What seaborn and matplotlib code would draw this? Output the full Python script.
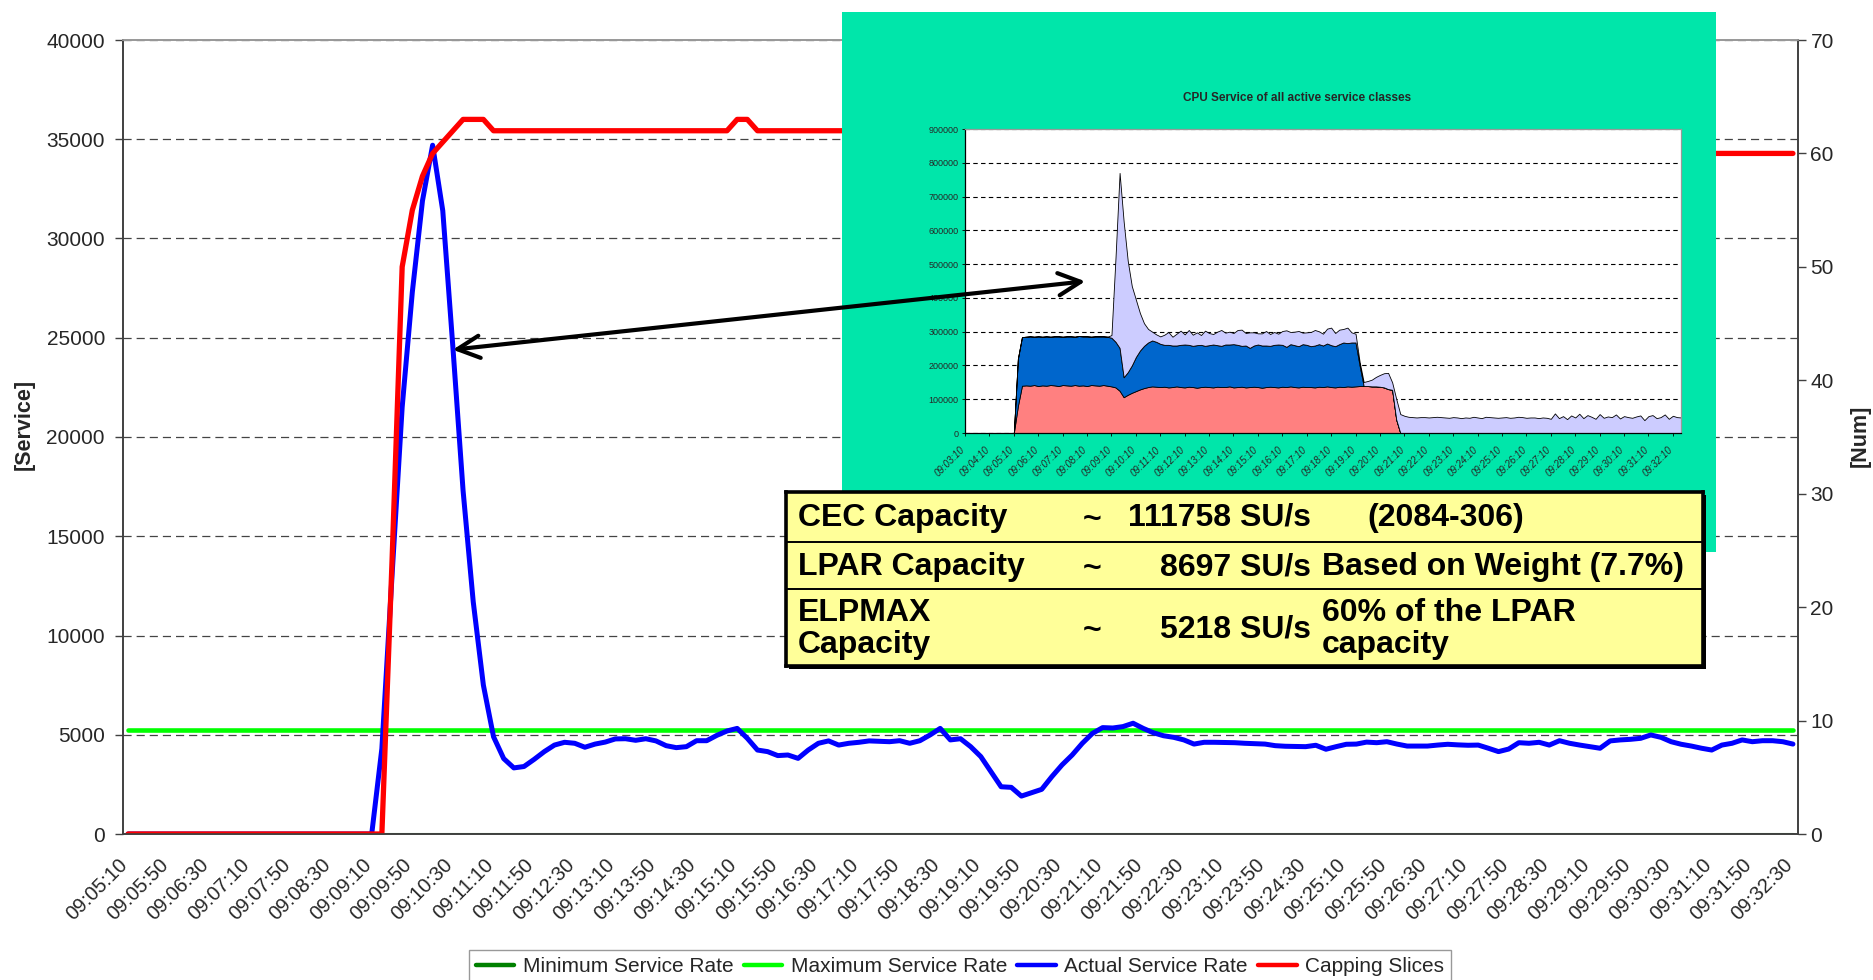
import numpy as np
import pandas as pd
import matplotlib
matplotlib.use("Agg")
import matplotlib.pyplot as plt
import matplotlib.transforms as mtransforms
from matplotlib.lines import Line2D
from matplotlib.patches import Rectangle, FancyArrowPatch
import seaborn as sns

# ---------------- data ----------------
times = pd.date_range("2000-01-01 09:05:10", periods=165, freq="10s").strftime("%H:%M:%S")

series_names = ["Minimum Service Rate", "Maximum Service Rate",
                "Actual Service Rate", "Capping Slices"]

min_rate = [0] * 165
max_rate = [5218] * 165

actual = [
    0, 0, 0, 0, 0, 0, 0, 0, 0, 0,
    0, 0, 0, 0, 0, 0, 0, 0, 0, 0,
    0, 0, 0, 0, 0,
    4300, 13000, 21500, 27300, 31900, 34700, 31400, 24500, 17300, 11700,
    7500, 4900, 3800, 3330, 3400, 3760, 4150, 4480, 4620, 4570,
    4370, 4530, 4630, 4790, 4800, 4720, 4800, 4690, 4450, 4350,
    4400, 4700, 4700, 4970, 5190, 5320, 4820, 4230, 4150, 3950,
    3980, 3810, 4230, 4570, 4690, 4480, 4570, 4620, 4690, 4670,
    4650, 4700, 4570, 4700, 4990, 5320, 4740, 4800, 4400, 3900,
    3140, 2380, 2350, 1910, 2080, 2250, 2890, 3480, 3980, 4570,
    5070, 5360, 5340, 5410, 5580, 5320, 5100, 4950, 4870, 4740,
    4530, 4620, 4620, 4610, 4600, 4570, 4550, 4530, 4450, 4420,
    4410, 4400, 4470, 4270, 4400, 4520, 4530, 4630, 4600, 4650,
    4530, 4430, 4430, 4430, 4480, 4520, 4490, 4470, 4480, 4320,
    4150, 4280, 4600, 4570, 4620, 4480, 4700, 4570, 4480, 4400,
    4320, 4690, 4740, 4770, 4820, 4990, 4870, 4650, 4520, 4430,
    4320, 4230, 4480, 4570, 4740, 4650, 4700, 4700, 4650, 4530,
]

capping = ([0] * 26 + [24, 50, 55, 58, 60, 61, 62, 63, 63, 63]
           + [62] * 24 + [63, 63] + [62] * 59 + [60] * 44)

# inset chart: CPU service per class (stacked)
inset_times = pd.date_range("2000-01-01 09:03:10", periods=177, freq="10s").strftime("%H:%M:%S")
inset_title = "CPU Service of all active service classes"

svc_low = (
    [0] * 13 + [80000, 140000]
    + [141000, 140000, 142000, 139000, 141000, 140000, 142000, 141000, 139000, 142000,
       141000, 140000, 142000, 140000, 141000, 139000, 142000, 141000, 140000, 142000, 140000]
    + [138000, 135000, 125000, 106000, 113000, 119000, 124000, 129000, 133000, 136000, 138000, 137000]
    + [136000, 137000, 135000, 136000, 138000, 136000, 135000, 137000, 136000, 134000,
       136000, 137000, 136000, 135000, 137000, 136000, 136000, 138000, 135000, 136000,
       137000, 135000, 136000, 137000, 136000, 134000, 136000, 137000, 136000, 135000,
       137000, 136000, 138000, 136000, 135000, 137000, 136000, 136000, 135000, 137000,
       136000, 138000, 136000, 135000, 137000, 136000, 138000, 137000, 138000, 139000]
    + [139000, 139000, 138000, 138000, 137000, 135000, 130000, 128000, 40000]
    + [0] * 70
)

svc_mid = (
    [0] * 13 + [140000, 144000]
    + [144000, 146000, 143000, 147000, 144000, 146000, 143000, 145000, 147000, 143000,
       145000, 146000, 143000, 147000, 145000, 147000, 143000, 145000, 146000, 144000, 145000]
    + [144000, 135000, 127000, 59000, 67000, 81000, 101000, 115000, 125000, 132000, 136000, 133000]
    + [128000, 124000, 126000, 123000, 121000, 125000, 127000, 124000, 122000, 126000,
       125000, 121000, 124000, 127000, 123000, 122000, 126000, 124000, 128000, 125000,
       121000, 124000, 116000, 122000, 126000, 125000, 123000, 121000, 125000, 127000,
       124000, 119000, 125000, 124000, 122000, 126000, 125000, 121000, 124000, 126000,
       123000, 127000, 124000, 122000, 126000, 132000, 128000, 131000]
    + [130000, 61000]
    + [0] * 79
)

svc_top = (
    [0] * 36
    + [8000, 250000, 518000, 461000, 330000, 235000, 170000, 111000, 67000, 40000, 26000, 22000]
    + [22000, 30000, 38000, 26000, 35000, 42000, 30000, 44000, 33000, 38000,
       29000, 45000, 36000, 31000, 40000, 47000, 35000, 38000, 33000, 44000,
       48000, 37000, 46000, 39000, 33000, 36000, 43000, 35000, 38000, 32000,
       41000, 49000, 36000, 40000, 45000, 34000, 37000, 42000, 46000, 38000,
       35000, 44000, 52000, 39000, 43000, 40000, 46000, 30000]
    + [26000, 11000]
    + [12000, 15000, 20000, 28000, 35000, 42000, 48000, 22000, 61000, 56000]
    + [51000, 48000, 47000, 46000, 47000, 47000, 46000, 47000, 48000, 47000,
       46000, 45000, 47000, 46000, 44000, 46000, 45000, 48000, 46000, 44000,
       48000, 47000, 46000, 45000, 46000, 47000, 45000, 46000, 48000, 47000,
       45000, 46000, 46000, 44000, 46000, 45000, 42000, 58000, 44000, 50000,
       41000, 52000, 46000, 57000, 44000, 53000, 48000, 42000, 56000, 45000,
       49000, 47000, 55000, 43000, 50000, 47000, 45000, 49000, 52000, 38000,
       50000, 53000, 44000, 47000, 55000, 42000, 51000, 47000, 46000]
)

table_rows = [
    ("CEC Capacity", "111758 SU/s", "(2084-306)"),
    ("LPAR Capacity", "8697 SU/s", "Based on Weight (7.7%)"),
    ("ELPMAX\nCapacity", "5218 SU/s", "60% of the LPAR\ncapacity"),
]

# ---------------- style ----------------
sns.set_theme(style="white")
plt.rcParams["font.family"] = ["Liberation Sans", "DejaVu Sans"]

W, H = 1874, 980
fig = plt.figure(figsize=(W / 100, H / 100), dpi=100)


def rect(x0, y0, x1, y1):
    return [x0 / W, 1 - y1 / H, (x1 - x0) / W, (y1 - y0) / H]


def shift(labels, dx_px, dy_px=0):
    off = mtransforms.ScaledTranslation(dx_px / 100, dy_px / 100, fig.dpi_scale_trans)
    for lbl in labels:
        lbl.set_transform(lbl.get_transform() + off)


colors = ["#008000", "#00FF00", "#0000FF", "#FF0000"]
widths = [2.2, 3.3, 3.6, 3.8]
x = np.arange(len(times))

# ---------------- main chart ----------------
ax = fig.add_axes(rect(123, 40, 1798, 834))
ax.set_facecolor("white")
sns.lineplot(x=x, y=min_rate, ax=ax, color=colors[0], linewidth=widths[0], legend=False)
sns.lineplot(x=x, y=max_rate, ax=ax, color=colors[1], linewidth=widths[1], legend=False)
sns.lineplot(x=x, y=actual, ax=ax, color=colors[2], linewidth=widths[2], legend=False)
ax.set_xlim(-0.5, len(times) - 0.5)
ax.set_ylim(0, 40000)
ax.set_yticks(range(0, 40001, 5000))
ax.yaxis.grid(True, linestyle=(0, (6.5, 4)), color="#444444", linewidth=0.9)
ax.xaxis.grid(False)
ax.set_axisbelow(True)

ax.set_xticks(x[::4])
ax.set_xticklabels(times[::4])
ax.set_xticks(np.arange(-0.5, len(times), 1), minor=True)
ax.tick_params(axis="x", which="major", length=0, pad=15, labelsize=14.5)
ax.tick_params(axis="x", which="minor", length=5, width=0.8, color="#404040", direction="out")
ax.tick_params(axis="y", length=6, width=1, color="#404040", direction="out", pad=7, labelsize=15)
ax.tick_params(left=True, bottom=True)
for lbl in ax.get_xticklabels():
    lbl.set_rotation(45)
    lbl.set_ha("right")
    lbl.set_va("top")
    lbl.set_rotation_mode("anchor")
shift(ax.get_xticklabels(), -10)
ax.set_xlabel("")
ax.set_ylabel("")

ax2 = ax.twinx()
sns.lineplot(x=x, y=capping, ax=ax2, color=colors[3], linewidth=widths[3], legend=False)
ax2.set_ylim(0, 70)
ax2.set_yticks(range(0, 71, 10))
ax2.tick_params(axis="y", length=6, width=1, color="#404040", direction="out", pad=3, labelsize=15)
ax2.tick_params(right=True)
ax2.grid(False)
ax2.set_ylabel("")

for a in (ax, ax2):
    a.spines["top"].set_color("#999999")
    for s in ("left", "right", "bottom"):
        a.spines[s].set_color("#404040")
        a.spines[s].set_linewidth(1.2)

fig.text(24 / W, 1 - 424 / H, "[Service]", rotation=90, ha="center", va="center",
         fontsize=15.5, fontweight="bold")
fig.text(1860 / W, 1 - 436 / H, "[Num]", rotation=90, ha="center", va="center",
         fontsize=15.5, fontweight="bold")

# ---------------- pasted inset chart ----------------
ax_bg = fig.add_axes(rect(842, 12, 1716, 552), zorder=3)
ax_bg.set_facecolor("#00E6AA")
ax_bg.set_xticks([])
ax_bg.set_yticks([])
for s in ax_bg.spines.values():
    s.set_visible(False)

xi = np.arange(len(inset_times))
ax_in = fig.add_axes(rect(965, 129, 1681, 433), zorder=4)
ax_in.set_facecolor("white")
ax_in.stackplot(xi, svc_low, svc_mid, svc_top,
                colors=["#FF8080", "#0066CC", "#CCCCFF"],
                edgecolor="black", linewidth=0.6)
ax_in.set_xlim(0, len(inset_times) - 1)
ax_in.set_ylim(0, 900000)
ax_in.set_yticks(range(0, 900001, 100000))
ax_in.set_yticklabels([str(v) for v in range(0, 900001, 100000)])
ax_in.yaxis.grid(True, linestyle=(0, (4, 3)), color="black", linewidth=0.8)
ax_in.set_axisbelow(True)
ax_in.set_xticks(xi[::6])
ax_in.set_xticklabels(inset_times[::6])
ax_in.set_xticks(xi, minor=True)
ax_in.tick_params(axis="x", which="both", length=2.5, width=0.6, direction="out",
                  color="black", pad=6, labelsize=7)
ax_in.tick_params(axis="y", length=2.5, width=0.6, direction="out", color="black",
                  pad=2, labelsize=6.5)
ax_in.tick_params(left=True, bottom=True)
for lbl in ax_in.get_xticklabels():
    lbl.set_rotation(45)
    lbl.set_ha("right")
    lbl.set_va("top")
    lbl.set_rotation_mode("anchor")
    lbl.set_style("italic")
shift(ax_in.get_xticklabels(), -5)
for s in ("left", "bottom"):
    ax_in.spines[s].set_color("black")
    ax_in.spines[s].set_linewidth(0.9)
for s in ("top", "right"):
    ax_in.spines[s].set_color("#999999")
    ax_in.spines[s].set_linewidth(0.9)
fig.text(1297 / W, 1 - 98 / H, inset_title, ha="center", va="center",
         fontsize=8.5, fontweight="bold", zorder=5)

# ---------------- capacity table ----------------
fig.patches.append(Rectangle((789 / W, 1 - 669 / H), (1703 - 786) / W, (666 - 492) / H,
                             transform=fig.transFigure, facecolor="black",
                             edgecolor="none", zorder=5.5))
ax_tb = fig.add_axes(rect(786, 492, 1703, 666), zorder=6)
ax_tb.set_facecolor("#FFFF99")
ax_tb.set_xlim(786, 1703)
ax_tb.set_ylim(666, 492)
ax_tb.set_xticks([])
ax_tb.set_yticks([])
ax_tb.grid(False)
for s in ax_tb.spines.values():
    s.set_color("black")
    s.set_linewidth(2.6)
for yline in (542, 589):
    ax_tb.axhline(yline, color="black", linewidth=1.4)

row_y = [518, 567, 629]
col4_x = [1367, 1322, 1322]
tfont = dict(fontsize=23, fontweight="bold", color="black", va="center", linespacing=1.05)
for (name, value, note), yy, x4 in zip(table_rows, row_y, col4_x):
    ax_tb.text(798, yy, name, ha="left", **tfont)
    ax_tb.text(1092, yy + 2, "~", ha="center", **tfont)
    ax_tb.text(1311, yy, value, ha="right", **tfont)
    ax_tb.text(x4, yy, note, ha="left", **tfont)

# ---------------- arrow ----------------
arrow = FancyArrowPatch((450 / W, 1 - 350 / H), (1088 / W, 1 - 281 / H),
                        transform=fig.transFigure,
                        arrowstyle="<->,head_length=0.8,head_width=0.4",
                        mutation_scale=20, color="black", linewidth=3.0, zorder=10)
fig.patches.append(arrow)

# ---------------- legend ----------------
handles = [Line2D([], [], color=c, linewidth=3.2) for c in colors]
leg = fig.legend(handles, series_names, loc="upper center",
                 bbox_to_anchor=(960 / W, 1 - 950 / H), ncol=4, frameon=True,
                 fancybox=False, edgecolor="#808080", fontsize=15, handlelength=1.85,
                 handletextpad=0.4, columnspacing=0.5, borderpad=0.35,
                 borderaxespad=0)
leg.get_frame().set_linewidth(1.0)

fig.savefig("out.png", dpi=100)
